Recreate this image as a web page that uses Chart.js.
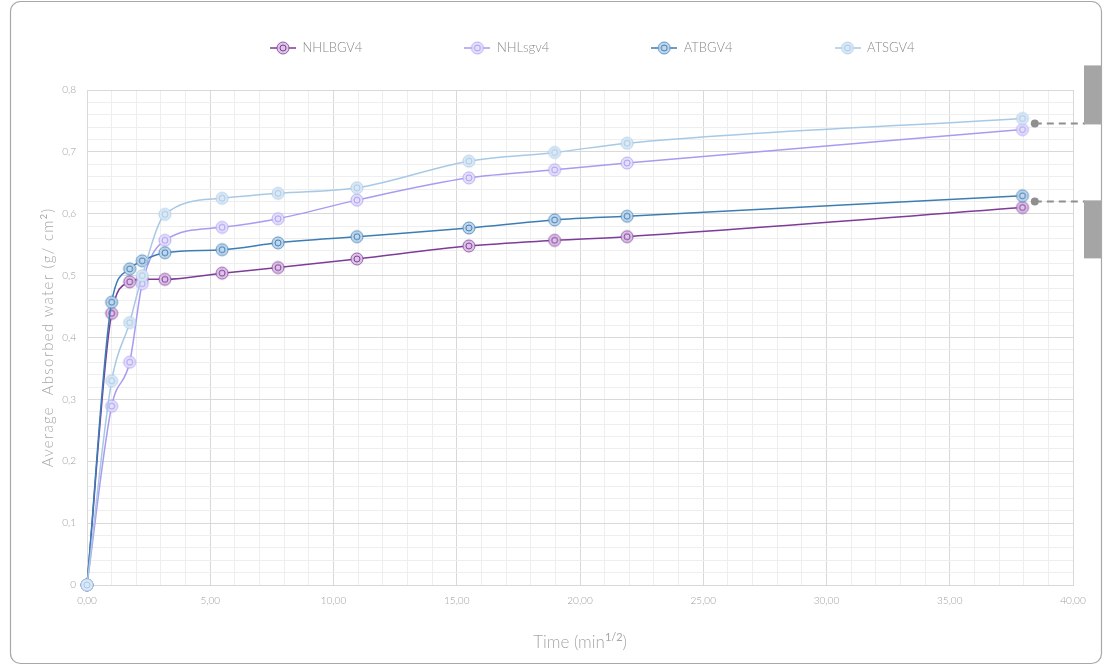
<!DOCTYPE html>
<html>
<head>
<meta charset="utf-8">
<title>Average absorbed water vs time</title>
<script src="https://cdn.jsdelivr.net/npm/chart.js@4/dist/chart.umd.min.js"></script>
<style>
  html, body { margin: 0; padding: 0; background: #ffffff; }
  #wrap { width: 1105px; height: 666px; position: relative; }
</style>
</head>
<body>
<div id="wrap"><canvas id="chart" width="1105" height="666"></canvas></div>
<script>
// Time axis values (square root of minutes)
const timeValues = [0, 1, 1.73, 2.24, 3.16, 5.48, 7.75, 10.95, 15.49, 18.97, 21.91, 37.95];

// Average absorbed water (g/cm2) per sample series
const seriesNames = ['NHLBGV4', 'NHLsgv4', 'ATBGV4', 'ATSGV4'];
const nhlbgv4 = [0, 0.439, 0.490, 0.494, 0.494, 0.504, 0.513, 0.527, 0.548, 0.557, 0.563, 0.610];
const nhlsgv4 = [0, 0.289, 0.360, 0.487, 0.557, 0.578, 0.592, 0.622, 0.658, 0.671, 0.682, 0.736];
const atbgv4  = [0, 0.457, 0.511, 0.524, 0.537, 0.542, 0.553, 0.563, 0.577, 0.590, 0.596, 0.629];
const atsgv4  = [0, 0.330, 0.424, 0.500, 0.599, 0.625, 0.633, 0.642, 0.685, 0.699, 0.714, 0.754];

// Axis tick labels
const xTickLabels = ['0,00', '5,00', '10,00', '15,00', '20,00', '25,00', '30,00', '35,00', '40,00'];
const yTickLabels = ['0', '0,1', '0,2', '0,3', '0,4', '0,5', '0,6', '0,7', '0,8'];

// Callout leader anchors at the right edge (x in time units, y in g/cm2)
const calloutX = [38.45, 38.45];
const calloutY = [0.746, 0.620];

const FONT = 'Lato, "Open Sans", "DejaVu Sans", sans-serif';
const lineColors = ['#7d3c98', '#a99bf0', '#3d7db5', '#a8c9e6'];
const fillColors = ['rgba(160,90,190,0.35)', 'rgba(180,165,245,0.35)', 'rgba(80,140,200,0.35)', 'rgba(175,205,235,0.45)'];

function makeMarker(stroke, fill, withLine) {
  const c = document.createElement('canvas');
  c.width = withLine ? 26 : 16;
  c.height = 16;
  const g = c.getContext('2d');
  const cx = c.width / 2, cy = 8;
  if (withLine) {
    g.strokeStyle = stroke;
    g.lineWidth = 1.5;
    g.beginPath(); g.moveTo(0, cy); g.lineTo(c.width, cy); g.stroke();
  }
  g.beginPath(); g.arc(cx, cy, 6, 0, Math.PI * 2);
  g.fillStyle = '#ffffff'; g.fill();
  g.fillStyle = fill; g.fill();
  g.lineWidth = 1; g.strokeStyle = stroke; g.globalAlpha = 0.8; g.stroke();
  g.globalAlpha = 1;
  g.beginPath(); g.arc(cx, cy, 3, 0, Math.PI * 2);
  g.lineWidth = 1; g.strokeStyle = stroke; g.stroke();
  return c;
}

const seriesValues = [nhlbgv4, nhlsgv4, atbgv4, atsgv4];
const datasets = seriesValues.map((vals, i) => ({
  label: seriesNames[i],
  data: timeValues.map((t, k) => ({ x: t, y: vals[k] })),
  borderColor: lineColors[i],
  backgroundColor: fillColors[i],
  borderWidth: 1.5,
  pointStyle: makeMarker(lineColors[i], fillColors[i], false),
  legendMarker: makeMarker(lineColors[i], fillColors[i], true),
  pointRadius: 6,
  clip: false,
  cubicInterpolationMode: 'monotone',
  order: 4 - i
}));

function isMultiple(v, step) {
  const r = v / step;
  return Math.abs(r - Math.round(r)) < 1e-6;
}

function drawWithSup(ctx, parts, x, y, size, align, spacing) {
  // parts: [{t, sup}] ; draws a run of text with superscript segments
  const supSize = Math.round(size * 0.62);
  ctx.letterSpacing = (spacing || 0) + 'px';
  let total = 0;
  const widths = parts.map(p => {
    ctx.font = '300 ' + (p.sup ? supSize : size) + 'px ' + FONT;
    const w = ctx.measureText(p.t).width;
    total += w;
    return w;
  });
  let cx = align === 'center' ? x - total / 2 : x;
  ctx.textBaseline = 'alphabetic';
  ctx.textAlign = 'left';
  parts.forEach((p, i) => {
    ctx.font = (p.sup ? '400 ' + supSize : '300 ' + size) + 'px ' + FONT;
    ctx.fillText(p.t, cx, p.sup ? y - size * 0.42 : y);
    cx += widths[i];
  });
  ctx.letterSpacing = '0px';
}

const decorations = {
  id: 'decorations',
  afterLayout(chart) {
    // place the legend row above the plot
    const lg = chart.legend;
    const pad = lg.options.labels.padding;
    lg.left = 270 - pad;
    lg.top = 41.5 - pad;
  },
  afterDraw(chart) {
    const ctx = chart.ctx;
    const area = chart.chartArea;
    const xs = chart.scales.x, ys = chart.scales.y;
    ctx.save();
    ctx.fillStyle = '#a6a6a6';
    // y axis title
    ctx.save();
    ctx.translate(47, (area.top + area.bottom) / 2);
    ctx.rotate(-Math.PI / 2);
    drawWithSup(ctx, [{ t: 'Average  Absorbed water (g/ cm' }, { t: '2', sup: true }, { t: ')' }], 0, 6, 15, 'center', 1.3);
    ctx.restore();
    // x axis title
    drawWithSup(ctx, [{ t: 'Time (min' }, { t: '1/2', sup: true }, { t: ')' }], (area.left + area.right) / 2, 648, 17, 'center', 0);

    // callouts with dashed leaders
    calloutX.forEach((cxv, i) => {
      const px = xs.getPixelForValue(cxv);
      const py = ys.getPixelForValue(calloutY[i]);
      ctx.strokeStyle = '#8f8f8f';
      ctx.lineWidth = 2;
      ctx.setLineDash([7, 5]);
      ctx.beginPath(); ctx.moveTo(px, py); ctx.lineTo(1085, py); ctx.stroke();
      ctx.setLineDash([]);
      ctx.fillStyle = '#8f8f8f';
      ctx.beginPath(); ctx.arc(px, py, 4, 0, Math.PI * 2); ctx.fill();
      ctx.fillStyle = '#a5a5a5';
      if (i === 0) ctx.fillRect(1084, py - 58, 18, 59);
      else ctx.fillRect(1084, py - 1, 18, 58);
    });

    // outer frame
    ctx.strokeStyle = '#a8a8a8';
    ctx.lineWidth = 1.2;
    ctx.beginPath();
    ctx.roundRect(10.5, 1.5, 1091, 662, 10);
    ctx.stroke();
    ctx.restore();
  }
};

new Chart(document.getElementById('chart'), {
  type: 'line',
  data: { datasets },
  plugins: [decorations],
  options: {
    responsive: false,
    animation: false,
    events: [],
    layout: { padding: { left: 0, right: 32, top: 0, bottom: 0 } },
    plugins: {
      tooltip: { enabled: false },
      legend: {
        position: 'top',
        align: 'start',
        maxHeight: 90,
        labels: {
          usePointStyle: true,
          pointStyleWidth: 26,
          padding: 102,
          color: '#8a8a8a',
          font: { family: FONT, size: 13, weight: 300 },
          generateLabels(chart) {
            return chart.data.datasets.map((ds, i) => ({
              text: ds.label,
              pointStyle: ds.legendMarker,
              fontColor: '#8a8a8a',
              datasetIndex: i,
              lineWidth: 0
            }));
          }
        }
      }
    },
    scales: {
      x: {
        type: 'linear',
        min: 0,
        max: 40,
        afterFit(scale) { scale.height = 81; },
        ticks: {
          stepSize: 1,
          autoSkip: false,
          maxRotation: 0,
          padding: 10,
          color: '#9a9a9a',
          font: { family: FONT, size: 10, weight: 300 },
          callback(v) {
            return isMultiple(v, 5) ? xTickLabels[Math.round(v / 5)] : '';
          }
        },
        grid: {
          drawTicks: false,
          color(c) { return c.tick && isMultiple(c.tick.value, 5) ? '#d9d9d9' : '#eeeeee'; },
          lineWidth: 1
        },
        border: { color: '#d9d9d9' }
      },
      y: {
        type: 'linear',
        min: 0,
        max: 0.8,
        afterFit(scale) { scale.width = 87; },
        ticks: {
          stepSize: 0.02,
          autoSkip: false,
          padding: 11,
          color: '#9a9a9a',
          font: { family: FONT, size: 10, weight: 300 },
          callback(v) {
            return isMultiple(v, 0.1) ? yTickLabels[Math.round(v * 10)] : '';
          }
        },
        grid: {
          drawTicks: false,
          color(c) { return c.tick && isMultiple(c.tick.value, 0.1) ? '#d9d9d9' : '#eeeeee'; },
          lineWidth: 1
        },
        border: { color: '#d9d9d9' }
      }
    }
  }
});
</script>
</body>
</html>
